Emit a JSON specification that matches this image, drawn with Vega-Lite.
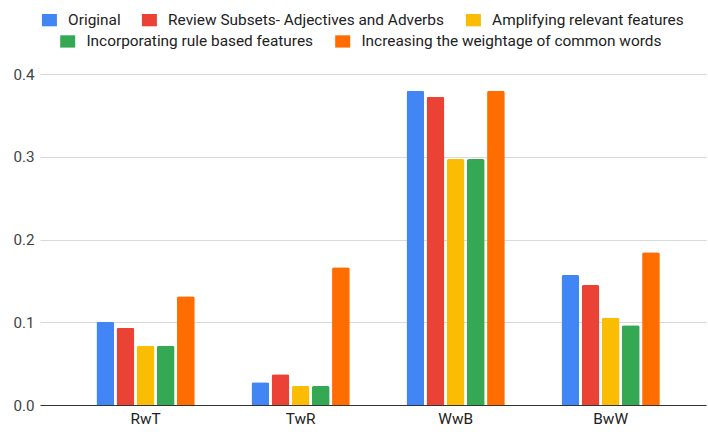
{
  "$schema": "https://vega.github.io/schema/vega-lite/v6.json",
  "width": 666,
  "height": 331,
  "autosize": {"type": "none"},
  "padding": {"left": 40, "top": 74, "right": 2, "bottom": 27},
  "background": "white",
  "config": {"view": {"stroke": null}, "font": "Roboto"},
  "data": {
    "values": [
      {"group": "RwT", "series": "Original", "value": 0.1007},
      {"group": "RwT", "series": "Review Subsets- Adjectives and Adverbs", "value": 0.0934},
      {"group": "RwT", "series": "Amplifying relevant features", "value": 0.0717},
      {"group": "RwT", "series": "Incorporating rule based features", "value": 0.0717},
      {"group": "RwT", "series": "Increasing the weightage of common words", "value": 0.1313},
      {"group": "TwR", "series": "Original", "value": 0.0274},
      {"group": "TwR", "series": "Review Subsets- Adjectives and Adverbs", "value": 0.0371},
      {"group": "TwR", "series": "Amplifying relevant features", "value": 0.023},
      {"group": "TwR", "series": "Incorporating rule based features", "value": 0.023},
      {"group": "TwR", "series": "Increasing the weightage of common words", "value": 0.1664},
      {"group": "WwB", "series": "Original", "value": 0.3798},
      {"group": "WwB", "series": "Review Subsets- Adjectives and Adverbs", "value": 0.3726},
      {"group": "WwB", "series": "Amplifying relevant features", "value": 0.2973},
      {"group": "WwB", "series": "Incorporating rule based features", "value": 0.2973},
      {"group": "WwB", "series": "Increasing the weightage of common words", "value": 0.3798},
      {"group": "BwW", "series": "Original", "value": 0.1571},
      {"group": "BwW", "series": "Review Subsets- Adjectives and Adverbs", "value": 0.145},
      {"group": "BwW", "series": "Amplifying relevant features", "value": 0.1055},
      {"group": "BwW", "series": "Incorporating rule based features", "value": 0.0963},
      {"group": "BwW", "series": "Increasing the weightage of common words", "value": 0.1845}
    ]
  },
  "encoding": {
    "x": {
      "field": "group",
      "type": "nominal",
      "sort": ["RwT", "TwR", "WwB", "BwW"],
      "scale": {"paddingInner": 0.366, "paddingOuter": 0.331, "align": 0.55},
      "axis": {
        "title": null,
        "labelAngle": 0,
        "ticks": false,
        "grid": false,
        "domainColor": "#333333",
        "domainWidth": 1,
        "labelPadding": 6,
        "labelFont": "Roboto",
        "labelFontSize": 15.4,
        "labelColor": "#222222"
      }
    },
    "xOffset": {
      "field": "series",
      "type": "nominal",
      "scale": {
        "domain": ["Original", "Review Subsets- Adjectives and Adverbs", "Amplifying relevant features", "Incorporating rule based features", "Increasing the weightage of common words"],
        "paddingInner": 0.12,
        "paddingOuter": 0
      }
    },
    "y": {
      "field": "value",
      "type": "quantitative",
      "scale": {"domain": [0, 0.4], "nice": false},
      "axis": {
        "title": null,
        "values": [0, 0.1, 0.2, 0.3, 0.4],
        "format": ".1f",
        "domain": false,
        "ticks": false,
        "labelPadding": 6,
        "gridColor": "#d9d9d9",
        "labelFont": "Roboto",
        "labelFontSize": 15.2,
        "labelColor": "#444444"
      }
    }
  },
  "layer": [
    {
      "transform": [{"filter": {"field": "series", "oneOf": ["Original", "Review Subsets- Adjectives and Adverbs", "Amplifying relevant features"]}}],
      "mark": {"type": "bar", "cornerRadiusTopLeft": 2, "cornerRadiusTopRight": 2},
      "encoding": {
        "color": {
          "field": "series",
          "type": "nominal",
          "scale": {
            "domain": ["Original", "Review Subsets- Adjectives and Adverbs", "Amplifying relevant features"],
            "range": ["#4285F4", "#EA4335", "#FBBC04"]
          },
          "legend": {
            "orient": "none",
            "legendX": 1.7,
            "legendY": -62,
            "direction": "horizontal",
            "title": null,
            "symbolType": "M-1,-0.82H1V0.82H-1Z",
            "symbolSize": 225,
            "symbolStrokeWidth": 0,
            "labelFont": "Roboto",
            "labelFontSize": 15.4,
            "labelColor": "#222222",
            "labelLimit": 500,
            "labelOffset": 11,
            "columnPadding": 21
          }
        }
      }
    },
    {
      "transform": [{"filter": {"field": "series", "oneOf": ["Incorporating rule based features", "Increasing the weightage of common words"]}}],
      "mark": {"type": "bar", "cornerRadiusTopLeft": 2, "cornerRadiusTopRight": 2},
      "encoding": {
        "fill": {
          "field": "series",
          "type": "nominal",
          "scale": {
            "domain": ["Incorporating rule based features", "Increasing the weightage of common words"],
            "range": ["#34A853", "#FF6D01"]
          },
          "legend": {
            "orient": "none",
            "legendX": 20,
            "legendY": -40.7,
            "direction": "horizontal",
            "title": null,
            "symbolType": "M-1,-0.82H1V0.82H-1Z",
            "symbolSize": 225,
            "symbolStrokeWidth": 0,
            "labelFont": "Roboto",
            "labelFontSize": 15.4,
            "labelColor": "#222222",
            "labelLimit": 500,
            "labelOffset": 11,
            "columnPadding": 21
          }
        }
      }
    }
  ]
}
